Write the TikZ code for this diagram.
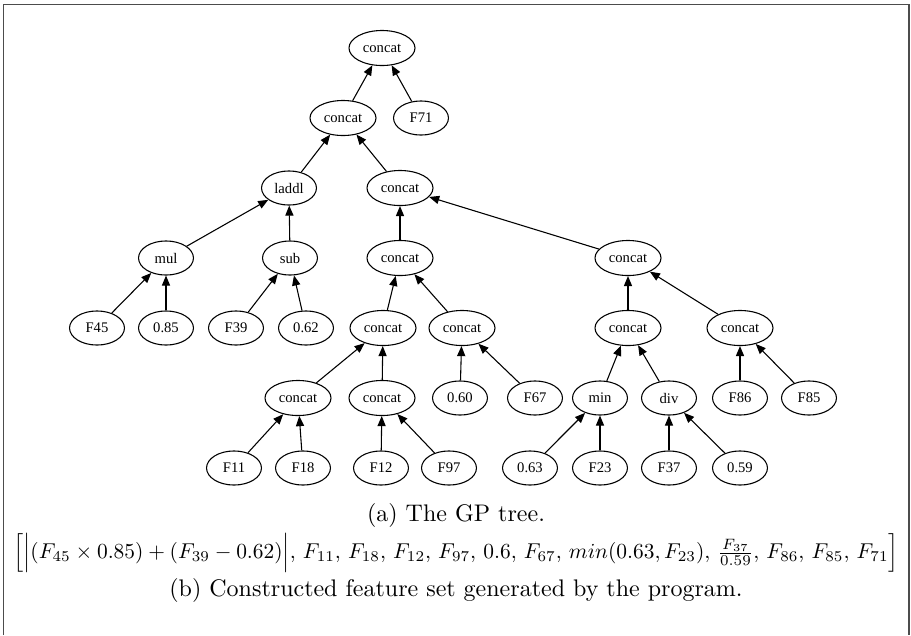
\documentclass[tikz,border=0pt]{standalone}
\usepackage{fontspec}
\newfontfamily\nodefont{Liberation Serif}
\usetikzlibrary{arrows.meta,shapes.geometric}
\begin{document}
\begin{tikzpicture}[x=0.4167pt,y=-0.4167pt,
  tn/.style={draw,ellipse,line width=0.45pt,inner sep=0pt,minimum width=22.9pt,minimum height=14.2pt,font=\nodefont\fontsize{6.1}{6.5}\selectfont},
  cn/.style={tn,minimum width=27.5pt,minimum height=14.6pt},
  ed/.style={line width=0.45pt,-{Triangle[length=4.2pt,width=3.4pt]}},
  captext/.style={inner sep=0pt,font=\normalsize}]
\useasboundingbox (0,0) rectangle (911,635);
\draw[line width=0.65pt,color=black!70] (3.5,635) -- (3.5,4.5) -- (909,4.5) -- (909,635);
% row 1
\node[cn] (c1) at (382,48) {concat};
% row 2
\node[cn] (c2) at (343,118) {concat};
\node[tn] (f71) at (421,118) {F71};
% row 3
\node[tn] (laddl) at (289,188) {laddl};
\node[cn] (c3) at (400,188) {concat};
% row 4
\node[tn] (mul) at (166,258) {mul};
\node[tn] (sub) at (290,258) {sub};
\node[cn] (c4) at (400,258) {concat};
\node[cn] (c5) at (628,258) {concat};
% row 5
\node[tn] (f45) at (97,328) {F45};
\node[tn] (n085) at (166,328) {0.85};
\node[tn] (f39) at (236,328) {F39};
\node[tn] (n062) at (306,328) {0.62};
\node[cn] (c6) at (383,328) {concat};
\node[cn] (c7) at (462,328) {concat};
\node[cn] (c10) at (628,328) {concat};
\node[cn] (c11) at (740,328) {concat};
% row 6
\node[cn] (c8) at (298,398) {concat};
\node[cn] (c9) at (382,398) {concat};
\node[tn] (n060) at (460,398) {0.60};
\node[tn] (f67) at (535,398) {F67};
\node[tn] (min) at (600,398) {min};
\node[tn] (div) at (669,398) {div};
\node[tn] (f86) at (740,398) {F86};
\node[tn] (f85) at (809,398) {F85};
% row 7
\node[tn] (f11) at (234,468) {F11};
\node[tn] (f18) at (303,468) {F18};
\node[tn] (f12) at (381,468) {F12};
\node[tn] (f97) at (449,468) {F97};
\node[tn] (n063) at (530,468) {0.63};
\node[tn] (f23) at (600,468) {F23};
\node[tn] (f37) at (669,468) {F37};
\node[tn] (n059) at (740,468) {0.59};
% edges
\draw[ed] (c2) -- (c1);
\draw[ed] (f71) -- (c1);
\draw[ed] (laddl) -- (c2);
\draw[ed] (c3) -- (c2);
\draw[ed] (mul) -- (laddl);
\draw[ed] (sub) -- (laddl);
\draw[ed] (f45) -- (mul);
\draw[ed] (n085) -- (mul);
\draw[ed] (f39) -- (sub);
\draw[ed] (n062) -- (sub);
\draw[ed] (c4) -- (c3);
\draw[ed] (c5) -- (c3);
\draw[ed] (c6) -- (c4);
\draw[ed] (c7) -- (c4);
\draw[ed] (c8) -- (c6);
\draw[ed] (c9) -- (c6);
\draw[ed] (f11) -- (c8);
\draw[ed] (f18) -- (c8);
\draw[ed] (f12) -- (c9);
\draw[ed] (f97) -- (c9);
\draw[ed] (n060) -- (c7);
\draw[ed] (f67) -- (c7);
\draw[ed] (c10) -- (c5);
\draw[ed] (c11) -- (c5);
\draw[ed] (min) -- (c10);
\draw[ed] (div) -- (c10);
\draw[ed] (n063) -- (min);
\draw[ed] (f23) -- (min);
\draw[ed] (f37) -- (div);
\draw[ed] (n059) -- (div);
\draw[ed] (f86) -- (c11);
\draw[ed] (f85) -- (c11);
% captions
\node[captext] (capa) at (456,515) {(a) The GP tree.};
\node[captext] (form) at (456,553) {\resizebox{369pt}{!}{$\Bigl[\Bigl|(F_{45}\times 0.85)+(F_{39}-0.62)\Bigr|,\, F_{11},\, F_{18},\, F_{12},\, F_{97},\, 0.6,\, F_{67},\, min(0.63,F_{23}),\, \frac{F_{37}}{0.59},\, F_{86},\, F_{85},\, F_{71}\Bigr]$}};
\node[captext] (capb) at (456,590) {(b) Constructed feature set generated by the program.};
\end{tikzpicture}
\end{document}
